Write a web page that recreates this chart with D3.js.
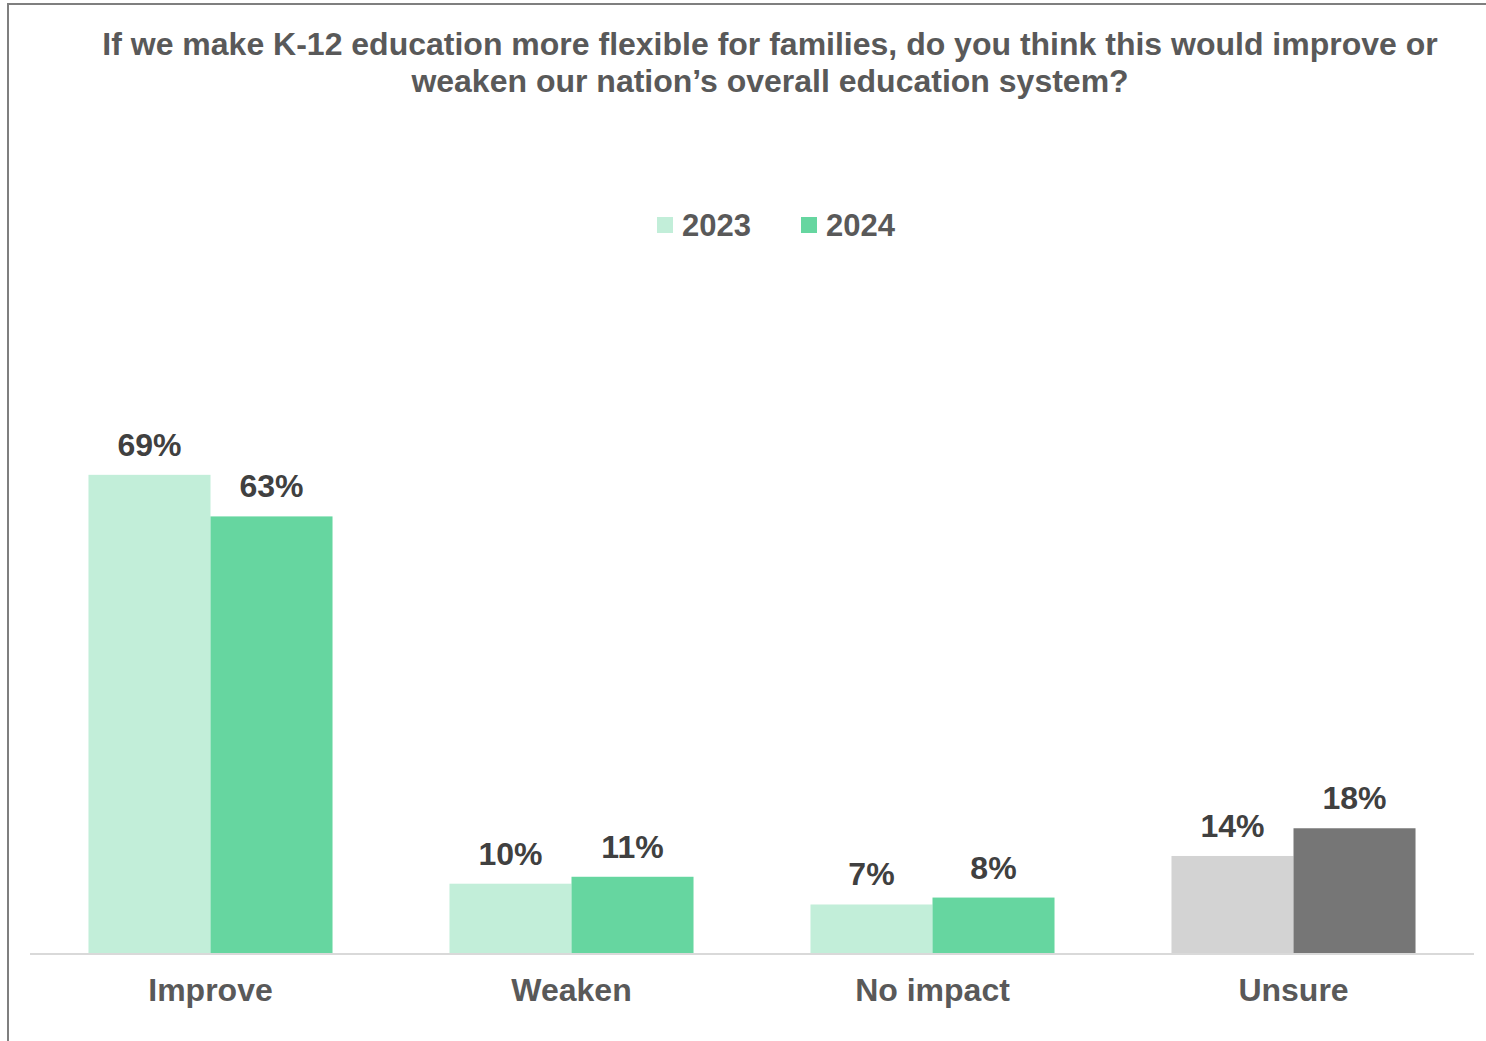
<!DOCTYPE html>
<html>
<head>
<meta charset="utf-8">
<script src="https://cdn.jsdelivr.net/npm/d3@7"></script>
<style>
html,body{margin:0;padding:0;background:#fff;}
svg{display:block;font-family:"Liberation Sans",Arial,sans-serif;}
</style>
</head>
<body>
<svg id="chart" width="1486" height="1041"></svg>
<script>
const titleLines = ["If we make K-12 education more flexible for families, do you think this would improve or",
                    "weaken our nation\u2019s overall education system?"];
const categories = ["Improve", "Weaken", "No impact", "Unsure"];
const seriesNames = ["2023", "2024"];
const values2023 = [0.69, 0.10, 0.07, 0.14];
const values2024 = [0.63, 0.11, 0.08, 0.18];
const colors2023 = ["#c2eed9", "#c2eed9", "#c2eed9", "#d3d3d3"];
const colors2024 = ["#66d6a0", "#66d6a0", "#66d6a0", "#767676"];

const svg = d3.select("#chart");
const W = 1486, H = 1041;

// frame
svg.append("rect").attr("x", 8).attr("y", 4).attr("width", W + 10).attr("height", H + 10)
  .attr("fill", "#fff").attr("stroke", "#7f7f7f").attr("stroke-width", 2);

// title
svg.append("text").attr("x", 770).attr("y", 55).attr("text-anchor", "middle")
  .attr("font-size", 32).attr("font-weight", "bold").attr("fill", "#595959")
  .selectAll("tspan").data(titleLines).join("tspan")
  .attr("x", 770).attr("dy", (d, i) => i === 0 ? 0 : 37).text(d => d);

// legend
const legendX = [657, 801];
const legendColors = [colors2023[0], colors2024[0]];
const lg = svg.append("g");
seriesNames.forEach((s, i) => {
  lg.append("rect").attr("x", legendX[i]).attr("y", 217).attr("width", 16).attr("height", 16).attr("fill", legendColors[i]);
  lg.append("text").attr("x", legendX[i] + 25).attr("y", 236).attr("font-size", 31).attr("font-weight", "bold")
    .attr("fill", "#595959").text(s);
});

// scales
const x0 = d3.scaleBand().domain(categories).range([30, 1474]).paddingInner(0.324).paddingOuter(0.162);
const x1 = d3.scaleBand().domain(seriesNames).range([0, x0.bandwidth()]);
const y = d3.scaleLinear().domain([0, 1]).range([953, 260]);

const data = categories.map((c, i) => ({
  cat: c,
  vals: [
    {s: "2023", v: values2023[i], color: colors2023[i]},
    {s: "2024", v: values2024[i], color: colors2024[i]}
  ]
}));

const groups = svg.append("g").selectAll("g").data(data).join("g")
  .attr("transform", d => `translate(${x0(d.cat)},0)`);

groups.selectAll("rect").data(d => d.vals).join("rect")
  .attr("x", d => x1(d.s)).attr("width", x1.bandwidth())
  .attr("y", d => y(d.v)).attr("height", d => y(0) - y(d.v))
  .attr("fill", d => d.color);

groups.selectAll("text.val").data(d => d.vals).join("text")
  .attr("class", "val")
  .attr("x", d => x1(d.s) + x1.bandwidth() / 2)
  .attr("y", d => y(d.v) - 19)
  .attr("text-anchor", "middle").attr("font-size", 32).attr("font-weight", "bold")
  .attr("fill", "#404040")
  .text(d => Math.round(d.v * 100) + "%");

// baseline axis
const xAxis = d3.axisBottom(x0).tickSize(0).tickPadding(0);
const ax = svg.append("g").attr("transform", `translate(0,${y(0)})`).call(xAxis);
ax.select(".domain").attr("stroke", "#d9d9d9").attr("stroke-width", 2).attr("d", "M30,1H1474");
ax.selectAll(".tick text").attr("font-size", 32).attr("font-weight", "bold").attr("fill", "#595959")
  .attr("font-family", "'Liberation Sans', Arial, sans-serif")
  .attr("dy", 0).attr("y", 48);
</script>
</body>
</html>
